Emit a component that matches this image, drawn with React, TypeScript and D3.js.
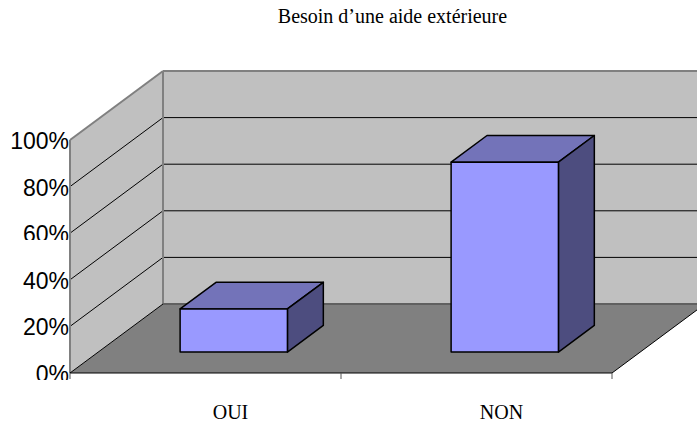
import React from "react";
import * as d3 from "d3";

const categories = ["OUI", "NON"];
const values = [18.5, 81.5];
const yTicks = [0, 20, 40, 60, 80, 100];
const title = "Besoin d’une aide extérieure";

const width = 697;
const height = 423;

// front plane of the 3d box, and how far the back wall is shifted
const x = d3.scaleBand<string>().domain(categories).range([70, 612]);
const y = d3.scaleLinear().domain([0, 100]).range([373, 140]);
const depthX = d3.scaleLinear().domain([0, 1]).range([0, 93]);
const depthY = d3.scaleLinear().domain([0, 1]).range([0, -69]);

const barRatio = 0.396;
const barDepth = [0.304, 0.69];

function pt(px: number, value: number, depth: number): [number, number] {
  return [px + depthX(depth), y(value) + depthY(depth)];
}

function poly(points: [number, number][]) {
  const path = d3.path();
  points.forEach((p, i) => (i === 0 ? path.moveTo(p[0], p[1]) : path.lineTo(p[0], p[1])));
  path.closePath();
  return path.toString();
}

function seg(a: [number, number], b: [number, number]) {
  const path = d3.path();
  path.moveTo(a[0], a[1]);
  path.lineTo(b[0], b[1]);
  return path.toString();
}

// tick labels get cut off at the bottom in the original
const labelClip: Record<number, number> = { 60: 240, 0: 380 };

export default function App() {
  const [x0, x1] = x.range();
  const y0 = y.domain()[0];
  const yMax = y.domain()[1];

  return (
    <svg width={width} height={height} style={{ position: "absolute", left: 0, top: 0, background: "#fff" }}>
      <defs>
        {Object.entries(labelClip).map(([k, v]) => (
          <clipPath id={"clip" + k} key={k}>
            <rect x={0} y={0} width={width} height={v} />
          </clipPath>
        ))}
      </defs>

      <text x={392.5} y={23} textAnchor="middle" fontFamily="Liberation Serif" fontSize={20} fill="#000">
        {title}
      </text>

      {/* walls */}
      <path d={poly([pt(x0, 0, 1), pt(x1, 0, 1), pt(x1, yMax, 1), pt(x0, yMax, 1)])} fill="#c0c0c0" stroke="none" />
      <path d={poly([pt(x0, y0, 0), pt(x0, y0, 1), pt(x0, yMax, 1), pt(x0, yMax, 0)])} fill="#c0c0c0" stroke="none" />
      <path d={poly([pt(x0, y0, 0), pt(x1, y0, 0), pt(x1, y0, 1), pt(x0, y0, 1)])} fill="#808080" stroke="none" />

      {/* gridlines */}
      {yTicks.slice(1, -1).map((t) => (
        <g key={t} fill="none" stroke="#000" strokeWidth={1}>
          <path d={seg(pt(x0, t, 0), pt(x0, t, 1))} />
          <path d={seg(pt(x0, t, 1), pt(x1, t, 1))} />
        </g>
      ))}

      {/* wall outlines */}
      <g fill="none" stroke="#808080" strokeWidth={2}>
        <path d={seg(pt(x0, yMax, 0), pt(x0, yMax, 1))} />
        <path d={seg(pt(x0, yMax, 1), pt(x1, yMax, 1))} />
        <path d={seg(pt(x0, y0, 1), pt(x0, yMax, 1))} />
        <path d={seg(pt(x0, y0, 0), pt(x0, yMax, 0))} />
      </g>
      <path d={seg(pt(x0, y0, 1), pt(x1, y0, 1))} fill="none" stroke="#606060" strokeWidth={2} />
      <g fill="none" stroke="#000" strokeWidth={1}>
        <path d={seg(pt(x0, y0, 0), pt(x0, y0, 1))} />
        <path d={seg(pt(x0, y0, 0), pt(x1, y0, 0))} />
        <path d={seg(pt(x1, y0, 0), pt(x1, y0, 1))} />
      </g>

      {/* category ticks */}
      {[x0, x0 + x.bandwidth(), x1].map((t) => (
        <path key={t} d={seg([t, y(0)], [t, y(0) + 6])} stroke="#555" strokeWidth={1} fill="none" />
      ))}

      {/* bars */}
      {categories.map((c, i) => {
        const w = x.bandwidth() * barRatio;
        const l = (x(c) as number) + (x.bandwidth() - w) / 2;
        const r = l + w;
        const [d0, d1] = barDepth;
        const v = values[i];
        return (
          <g key={c} stroke="#000" strokeWidth={1.5} strokeLinejoin="round">
            <path d={poly([pt(l, v, d0), pt(r, v, d0), pt(r, v, d1), pt(l, v, d1)])} fill="#7373b9" />
            <path d={poly([pt(r, 0, d0), pt(r, 0, d1), pt(r, v, d1), pt(r, v, d0)])} fill="#4d4d7f" />
            <path d={poly([pt(l, 0, d0), pt(r, 0, d0), pt(r, v, d0), pt(l, v, d0)])} fill="#9999ff" />
          </g>
        );
      })}

      {/* tick labels */}
      {yTicks.map((t) => (
        <text
          key={t}
          x={69}
          y={y(t) + 9}
          textAnchor="end"
          fontFamily="Liberation Sans"
          fontSize={23}
          fill="#000"
          clipPath={labelClip[t] ? `url(#clip${t})` : undefined}
        >
          {t}%
        </text>
      ))}

      {categories.map((c) => (
        <text
          key={c}
          x={(x(c) as number) + x.bandwidth() / 2 + 25}
          y={419}
          textAnchor="middle"
          fontFamily="Liberation Serif"
          fontSize={20}
          fill="#000"
        >
          {c}
        </text>
      ))}
    </svg>
  );
}
